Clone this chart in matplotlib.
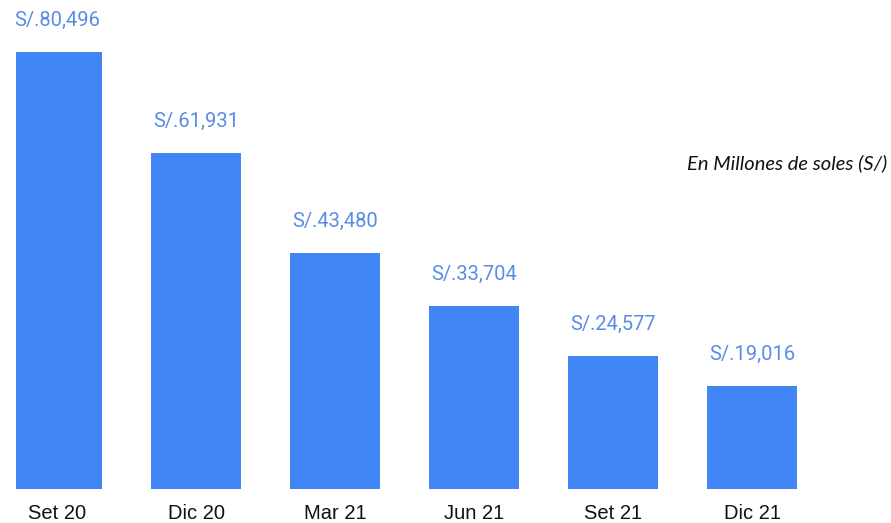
import matplotlib
matplotlib.use("Agg")
import matplotlib.pyplot as plt
from matplotlib.transforms import Bbox

categories = ["Set 20", "Dic 20", "Mar 21", "Jun 21", "Set 21", "Dic 21"]
values = [80496, 61931, 43480, 33704, 24577, 19016]
value_labels = ["S/.80,496", "S/.61,931", "S/.43,480", "S/.33,704", "S/.24,577", "S/.19,016"]
note = "En Millones de soles (S/)"

fig = plt.figure(figsize=(8.91, 5.23), dpi=100)
ax = fig.add_axes([16/891, 34/523, 875/891, 489/523])
x = list(range(len(categories)))
ax.bar(x, values, width=0.647, color="#4285F4", zorder=2)
ax.set_xlim(-0.295, 6.0)
ax.set_ylim(0, 90070)
for s in ax.spines.values():
    s.set_visible(False)
ax.set_yticks([])
ax.set_xticks(x)
ax.set_xticklabels(categories, fontsize=14.5, family="Liberation Sans", color="#111111")
ax.tick_params(axis="x", length=0, pad=11)
clip = Bbox.from_extents(16, 0, 891, 523)
for xi, v, lab in zip(x, values, value_labels):
    t = ax.annotate(lab, (xi, v), xytext=(0, 22), textcoords="offset pixels",
                    ha="center", va="bottom", fontsize=14.5, family="Roboto",
                    color="#5A8CE6", annotation_clip=False)
    t.set_clip_box(clip)
    t.set_clip_on(True)
fig.text(887/891, 1 - 163/523, note, ha="right", va="center", fontsize=14.5,
         style="italic", family="Lato", color="#111111")
fig.savefig("out.png", dpi=100)
